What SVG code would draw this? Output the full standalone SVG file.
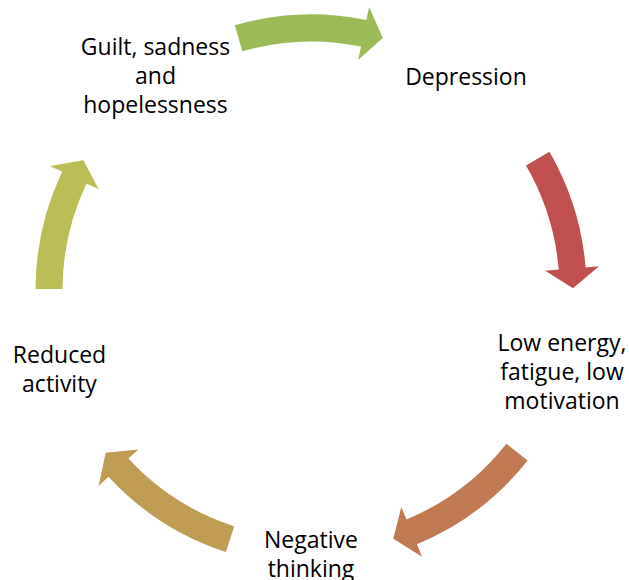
<svg xmlns="http://www.w3.org/2000/svg" width="629" height="580" viewBox="0 0 629 580">
  <style>
    .lbl { font-family: "Open Sans", "Noto Sans", "Liberation Sans", sans-serif; font-size: 23px; fill: #000; text-anchor: middle; }
  </style>
  <rect width="629" height="580" fill="#ffffff"/>
  <!-- curved block arrows on a ring centred at (311,290), body r 248.5-275.5 -->
  <g id="connectors">
    <path id="arrow-top" fill="#9BBB59" d="M234.8,25.2 A275.5,275.5 0 0 1 366.4,20.1 L369.1,6.9 L382.8,38.0 L358.3,59.8 L361.0,46.6 A248.5,248.5 0 0 0 242.3,51.2 Z"/>
    <path id="arrow-right" fill="#C0504D" d="M549.4,151.8 A275.5,275.5 0 0 1 585.6,267.4 L599.0,266.3 L573.0,288.2 L545.2,270.8 L558.7,269.6 A248.5,248.5 0 0 0 526.0,165.4 Z"/>
    <path id="arrow-bottom-right" fill="#C17A52" d="M527.6,460.4 A275.5,275.5 0 0 1 416.9,544.3 L422.1,556.8 L393.3,538.7 L401.3,507.0 L406.5,519.4 A248.5,248.5 0 0 0 506.4,443.7 Z"/>
    <path id="arrow-bottom-left" fill="#BF9B53" d="M225.9,552.0 A275.5,275.5 0 0 1 108.5,476.8 L98.6,486.0 L105.7,452.7 L138.3,449.4 L128.4,458.5 A248.5,248.5 0 0 0 234.2,526.3 Z"/>
    <path id="arrow-left" fill="#BDBD58" d="M35.5,289.0 A275.5,275.5 0 0 1 62.1,171.8 L49.9,166.0 L83.4,160.2 L98.7,189.2 L86.5,183.4 A248.5,248.5 0 0 0 62.5,289.1 Z"/>
  </g>
  <g id="node-depression">
    <text class="lbl" x="466" y="85">Depression</text>
  </g>
  <g id="node-low-energy">
    <text class="lbl" x="562" y="351">Low energy,</text>
    <text class="lbl" x="562" y="380">fatigue, low</text>
    <text class="lbl" x="562" y="409">motivation</text>
  </g>
  <g id="node-negative-thinking">
    <text class="lbl" x="311" y="548">Negative</text>
    <text class="lbl" x="311" y="577">thinking</text>
  </g>
  <g id="node-reduced-activity">
    <text class="lbl" x="59.5" y="363">Reduced</text>
    <text class="lbl" x="59.5" y="392">activity</text>
  </g>
  <g id="node-guilt">
    <text class="lbl" x="155.5" y="55">Guilt, sadness</text>
    <text class="lbl" x="155.5" y="84">and</text>
    <text class="lbl" x="155.5" y="113">hopelessness</text>
  </g>
</svg>
